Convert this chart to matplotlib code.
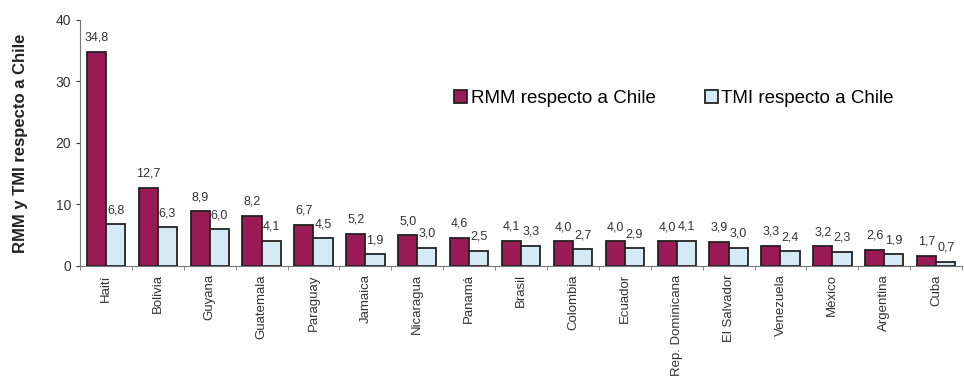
import matplotlib
matplotlib.use("Agg")
import matplotlib.pyplot as plt
import numpy as np

paises = ["Haití", "Bolivia", "Guyana", "Guatemala", "Paraguay", "Jamaica",
          "Nicaragua", "Panamá", "Brasil", "Colombia", "Ecuador",
          "Rep. Dominicana", "El Salvador", "Venezuela", "México",
          "Argentina", "Cuba"]
rmm = [34.8, 12.7, 8.9, 8.2, 6.7, 5.2, 5.0, 4.6, 4.1, 4.0, 4.0, 4.0, 3.9, 3.3, 3.2, 2.6, 1.7]
tmi = [6.8, 6.3, 6.0, 4.1, 4.5, 1.9, 3.0, 2.5, 3.3, 2.7, 2.9, 4.1, 3.0, 2.4, 2.3, 1.9, 0.7]
yticks = [0, 10, 20, 30, 40]

plt.rcParams["font.family"] = ["Liberation Sans", "DejaVu Sans"]

fig = plt.figure(figsize=(9.64, 3.9), dpi=100)
ax = fig.add_axes([0.083, 0.318, 0.915, 0.631])

x = np.arange(len(paises))
w = 0.37
c_rmm = "#9a1a55"
c_tmi = "#d4ebf5"
b1 = ax.bar(x - w / 2, rmm, w, color=c_rmm, edgecolor="#222222", linewidth=1.3,
            label="RMM respecto a Chile")
b2 = ax.bar(x + w / 2, tmi, w, color=c_tmi, edgecolor="#222222", linewidth=1.3,
            label="TMI respecto a Chile")

def fmt(v):
    return f"{v:.1f}".replace(".", ",")

for bars, vals in ((b1, rmm), (b2, tmi)):
    for b, v in zip(bars, vals):
        ax.text(b.get_x() + b.get_width() / 2, v + 1.3, fmt(v), ha="center",
                va="bottom", fontsize=9, color="#333333")

ax.set_xlim(-0.5, len(paises) - 0.5)
ax.set_ylim(0, 40)
ax.set_yticks(yticks)
ax.tick_params(axis="y", labelsize=10, length=3, colors="#333333")
ax.set_xticks(x)
ax.set_xticklabels(paises, rotation=90, fontsize=9.5, color="#333333")
ax.tick_params(axis="x", length=0, pad=6)
ax.set_xticks(np.arange(len(paises) + 1) - 0.5, minor=True)
ax.tick_params(axis="x", which="minor", length=3, color="#777777")
for s in ("top", "right"):
    ax.spines[s].set_visible(False)
ax.spines["left"].set_color("#777777")
ax.spines["bottom"].set_color("#777777")
ax.set_ylabel("RMM y TMI respecto a Chile", fontsize=12, color="#222222",
              fontweight="bold", labelpad=20)

ax.legend(loc="upper left", bbox_to_anchor=(0.405, 0.785), ncol=2, frameon=False,
          fontsize=13.5, handlelength=0.7, handleheight=0.7, handletextpad=0.2,
          columnspacing=2.6)

fig.savefig("out.png", dpi=100, facecolor="white")
